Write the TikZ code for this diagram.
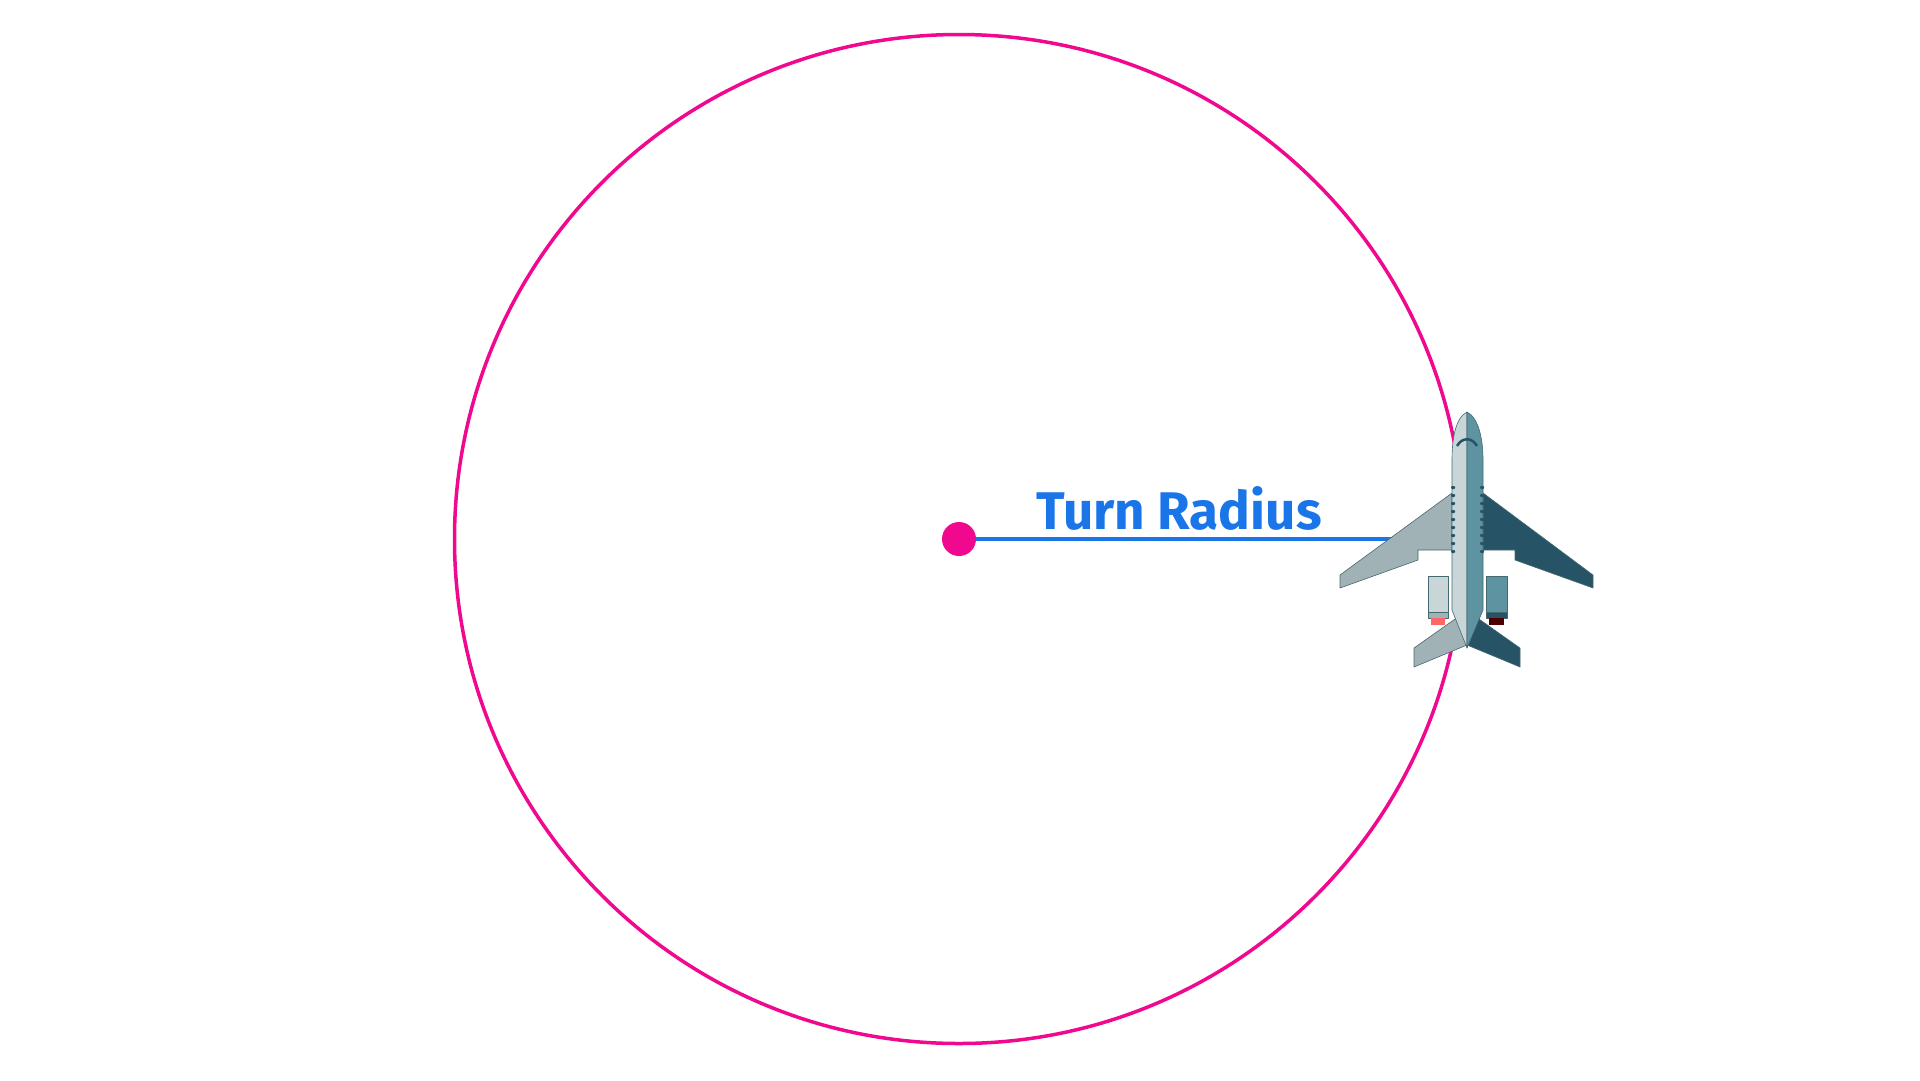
\documentclass[tikz,border=0pt]{standalone}
\usepackage{fontspec}
\setmainfont{Fira Sans}
\usetikzlibrary{positioning}
\definecolor{turnpink}{RGB}{240,8,143}
\definecolor{radiusblue}{RGB}{26,118,232}
\definecolor{planelight}{RGB}{200,214,216}
\definecolor{planegrey}{RGB}{160,178,181}
\definecolor{planedark}{RGB}{38,84,102}
\definecolor{planemid}{RGB}{94,148,162}
\definecolor{planeedge}{RGB}{70,104,112}

\begin{document}
\begin{tikzpicture}[x=1pt,y=-1pt,
    hull/.style={draw=planeedge, line width=0.6pt, line join=round},
    window/.style={fill=planedark, rounded corners=1pt}]
    \useasboundingbox (0,0) rectangle (1920,1080);
    % Circle of the turn
    \node[circle, draw=turnpink, line width=3.5pt, minimum size=1009pt, inner sep=0pt] (orbit) at (959,539) {};
    \node[circle, fill=turnpink, minimum size=34pt, inner sep=0pt] (centre) at (959,539) {};
    \coordinate (wingtouch) at (1392,539);
    \draw[radiusblue, line width=3.5pt] (centre) -- (wingtouch);
    \node[font=\bfseries\fontsize{53}{62}\selectfont, text=radiusblue] (label) at (1179,508) {Turn Radius};

    % Wings
    \filldraw[hull, fill=planegrey] (1452,493) -- (1340,575) -- (1340,588) -- (1418,560) -- (1418,550) -- (1452,550) -- cycle;
    \filldraw[hull, fill=planedark] (1483,493) -- (1593,575) -- (1593,588) -- (1515,560) -- (1515,550) -- (1483,550) -- cycle;
    % Engines
    \filldraw[hull, fill=planelight] (1428,576) rectangle (1448,612);
    \filldraw[hull, fill=planegrey] (1428,612) rectangle (1448,618);
    \fill[red!60!white] (1431,618) rectangle (1445,625);
    \filldraw[hull, fill=planemid] (1486,576) rectangle (1507,612);
    \filldraw[hull, fill=planedark] (1486,612) rectangle (1507,618);
    \fill[black!70!red] (1489,618) rectangle (1504,625);
    % Tail
    \filldraw[hull, fill=planegrey] (1465,612) -- (1414,648) -- (1414,667) -- (1467,645) -- cycle;
    \filldraw[hull, fill=planedark] (1469,612) -- (1520,648) -- (1520,667) -- (1467,645) -- cycle;
    % Fuselage
    \filldraw[hull, fill=planelight] (1467,412) .. controls (1455,418) and (1452,440) .. (1452,460) -- (1452,610) -- (1467,648) -- cycle;
    \filldraw[hull, fill=planemid] (1467,412) .. controls (1479,418) and (1483,440) .. (1483,460) -- (1483,610) -- (1467,648) -- cycle;
    \draw[planedark, line width=2.5pt] (1457,446) .. controls (1462,437) and (1472,437) .. (1477,446);
    % Windows
    \foreach \w in {0,...,8} {
        \fill[window] (1451,486+\w*8) rectangle (1455,489+\w*8);
        \fill[window] (1480,486+\w*8) rectangle (1484,489+\w*8);
    }
\end{tikzpicture}
\end{document}
